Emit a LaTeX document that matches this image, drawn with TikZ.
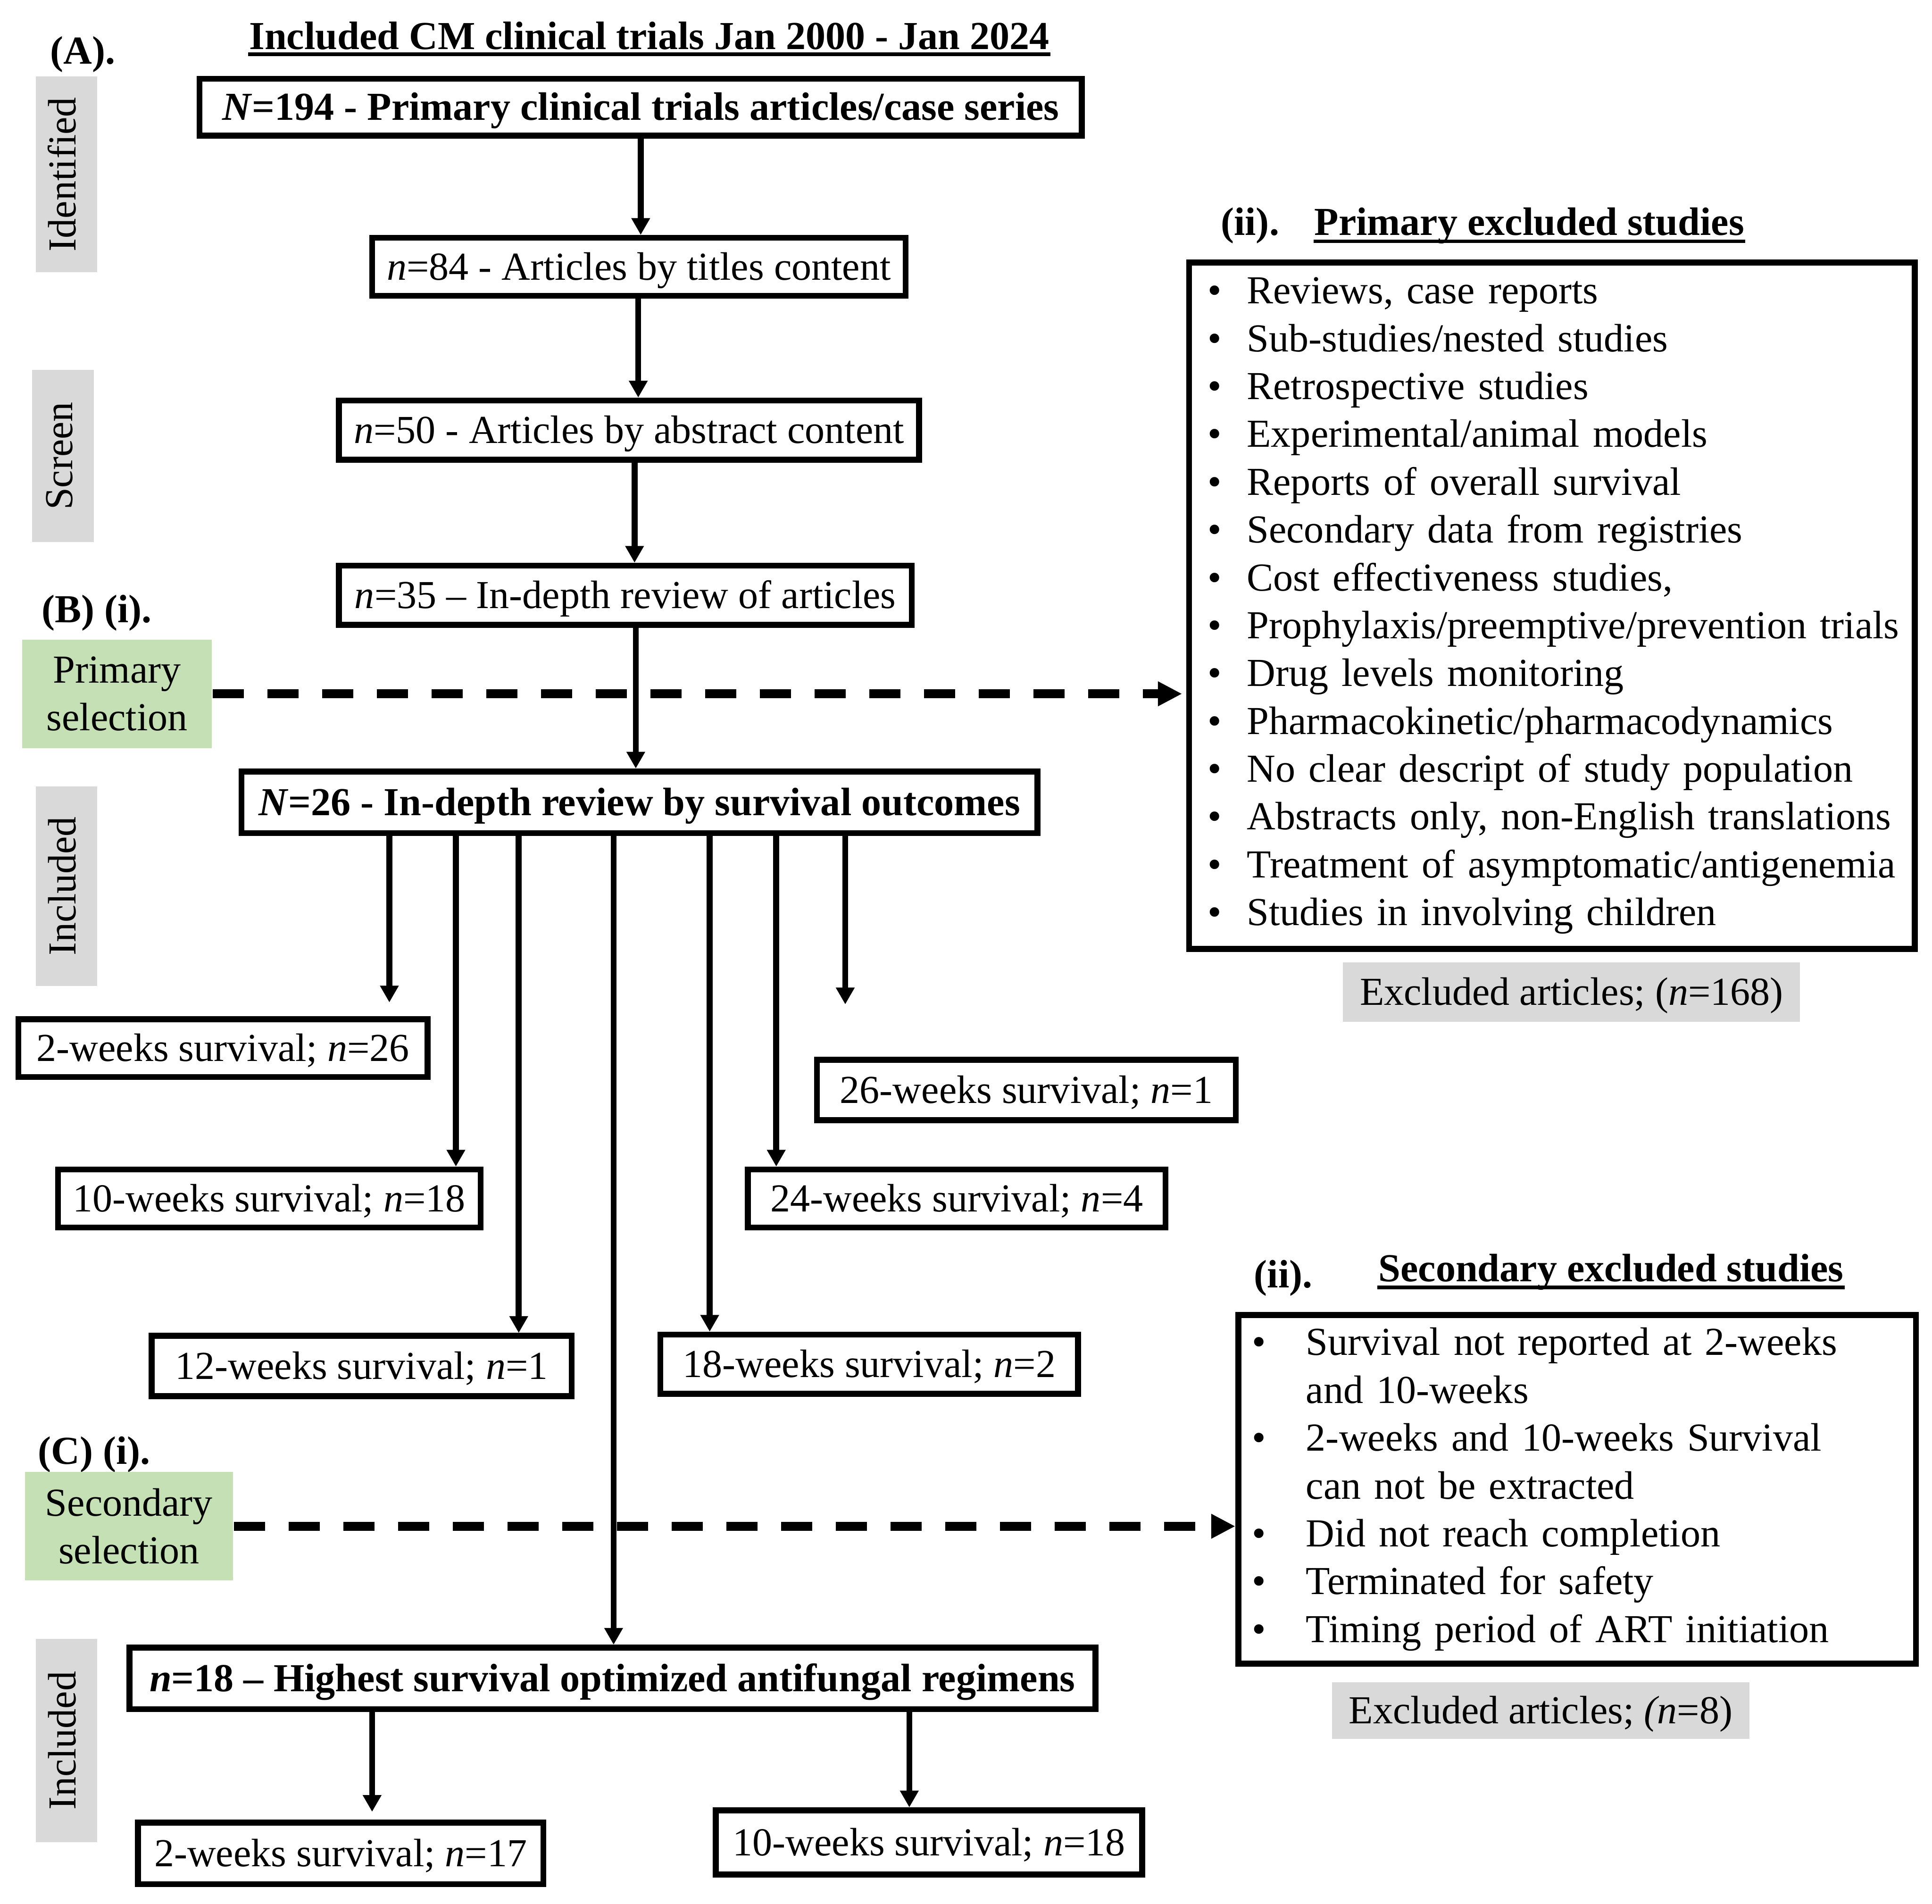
\documentclass[tikz,border=0pt]{standalone}
\usepackage{fontspec}
\setmainfont{Liberation Serif}
\usetikzlibrary{arrows.meta}
\definecolor{selgreen}{HTML}{C5E0B4}
\definecolor{sidegray}{HTML}{D9D9D9}
\begin{document}
\begin{tikzpicture}[x=0.25pt,y=-0.25pt,
  font=\fontsize{8.05}{9.7}\selectfont,
  box/.style={draw, line width=1.2pt, inner sep=0pt, align=center, text height=7.1pt, text depth=1.8pt},
  listbox/.style={draw, line width=1.2pt, inner sep=0pt, align=left},
  side/.style={fill=sidegray, inner sep=0pt, rotate=90, minimum height=12.5pt, text height=5.6pt, text depth=1.8pt},
  sel/.style={fill=selgreen, inner sep=0pt, align=center, minimum height=22pt},
  excl/.style={fill=sidegray, inner sep=0pt, minimum height=12pt, text height=7.1pt, text depth=1.8pt},
  arr/.style={line width=1.2pt, -{Triangle[length=3.4pt,width=3.6pt]}},
  darr/.style={line width=1.8pt, dash pattern=on 6.3pt off 4.8pt, -{Triangle[length=4.9pt,width=4.7pt]}},
  head/.style={font=\fontsize{8.05}{9.7}\selectfont\bfseries, inner sep=0pt, anchor=base west},
  uline/.style={line width=0.75pt}
]
\useasboundingbox (0,0) rectangle (1568,1545);

% headings
\node[head, anchor=base] (title) at (527,40) {Included CM clinical trials Jan 2000 - Jan 2024};
\draw[uline] ([yshift=-1pt]title.base west) -- ([yshift=-1pt]title.base east);
\node[head] (labA) at (40,52) {(A).};
\node[head] (labB) at (33,505) {(B) (i).};
\node[head] (labC) at (30,1188) {(C) (i).};
\node[head] (labP) at (990,191) {(ii).};
\node[head] (tp) at (1066,191) {Primary excluded studies};
\draw[uline] ([yshift=-1.2pt]tp.base west) -- ([yshift=-1.2pt]tp.base east);
\node[head] (labS) at (1017,1045) {(ii).};
\node[head] (ts) at (1118,1040) {Secondary excluded studies};
\draw[uline] ([yshift=-1.2pt]ts.base west) -- ([yshift=-1.2pt]ts.base east);

% side labels
\node[side, minimum width=39.75pt] (sid1) at (54,141.5) {Identified};
\node[side, minimum width=35pt] (scr1) at (51,370) {Screen};
\node[side, minimum width=40.5pt] (inc1) at (54,719) {Included};
\node[side, minimum width=41.25pt] (inc2) at (54,1412.5) {Included};

% selection boxes
\node[sel, minimum width=38.5pt] (psel) at (95,563) {Primary\\selection};
\node[sel, minimum width=42.25pt] (ssel) at (104.7,1238.5) {Secondary\\selection};

% main flow
\node[box, minimum width=179pt, minimum height=11.5pt] (b194) at (520,87) {\textbf{\textit{N}=194 - Primary clinical trials articles/case series}};
\node[box, minimum width=108.25pt, minimum height=11.75pt] (b84) at (518.5,216.5) {\textit{n}=84 - Articles by titles content};
\node[box, minimum width=117.75pt, minimum height=12pt] (b50) at (510.5,349) {\textit{n}=50 - Articles by abstract content};
\node[box, minimum width=116.25pt, minimum height=12pt] (b35) at (507.5,483) {\textit{n}=35 -- In-depth review of articles};
\node[box, minimum width=161.5pt, minimum height=12.5pt] (b26) at (519,651) {\textbf{\textit{N}=26 - In-depth review by survival outcomes}};

% survival outcome boxes
\node[box, minimum width=83pt, minimum height=11.75pt] (s2) at (181,850.5) {2-weeks survival; \textit{n}=26};
\node[box, minimum width=85.75pt, minimum height=11.75pt] (s10) at (218.5,972.5) {10-weeks survival; \textit{n}=18};
\node[box, minimum width=85.25pt, minimum height=12.25pt] (s12) at (293.5,1108.5) {12-weeks survival; \textit{n}=1};
\node[box, minimum width=84.75pt, minimum height=12pt] (s18) at (705.5,1107) {18-weeks survival; \textit{n}=2};
\node[box, minimum width=84.75pt, minimum height=11.75pt] (s24) at (776.5,972.5) {24-weeks survival; \textit{n}=4};
\node[box, minimum width=85pt, minimum height=12.25pt] (s26) at (833,884.5) {26-weeks survival; \textit{n}=1};

% final boxes
\node[box, minimum width=196pt, minimum height=12.5pt] (b18) at (497,1362) {\textbf{\textit{n}=18 -- Highest survival optimized antifungal regimens}};
\node[box, minimum width=82.25pt, minimum height=12.5pt] (f2) at (276.5,1504) {2-weeks survival; \textit{n}=17};
\node[box, minimum width=86.5pt, minimum height=13pt] (f10) at (754,1495) {10-weeks survival; \textit{n}=18};

% exclusion lists
\node[listbox, minimum width=147.25pt, minimum height=139.25pt, text width=139.75pt] (pex) at (1259.5,491.5) {%
\mbox{\makebox[8pt][l]{\textbullet}Reviews, case reports}\\
\mbox{\makebox[8pt][l]{\textbullet}Sub-studies/nested studies}\\
\mbox{\makebox[8pt][l]{\textbullet}Retrospective studies}\\
\mbox{\makebox[8pt][l]{\textbullet}Experimental/animal models}\\
\mbox{\makebox[8pt][l]{\textbullet}Reports of overall survival}\\
\mbox{\makebox[8pt][l]{\textbullet}Secondary data from registries}\\
\mbox{\makebox[8pt][l]{\textbullet}Cost effectiveness studies,}\\
\mbox{\makebox[8pt][l]{\textbullet}Prophylaxis/preemptive/prevention trials}\\
\mbox{\makebox[8pt][l]{\textbullet}Drug levels monitoring}\\
\mbox{\makebox[8pt][l]{\textbullet}Pharmacokinetic/pharmacodynamics}\\
\mbox{\makebox[8pt][l]{\textbullet}No clear descript of study population}\\
\mbox{\makebox[8pt][l]{\textbullet}Abstracts only, non-English translations}\\
\mbox{\makebox[8pt][l]{\textbullet}Treatment of asymptomatic/antigenemia}\\
\mbox{\makebox[8pt][l]{\textbullet}Studies in involving children}};
\node[excl, minimum width=92.75pt] (ex1) at (1275.5,805) {Excluded articles; (\textit{n}=168)};

\node[listbox, minimum width=137.5pt, minimum height=70.75pt, text width=132pt] (sex) at (1280,1208.5) {%
\mbox{\makebox[11pt][l]{\textbullet}Survival not reported at 2-weeks}\\
\mbox{\hspace*{11pt}and 10-weeks}\\
\mbox{\makebox[11pt][l]{\textbullet}2-weeks and 10-weeks Survival}\\
\mbox{\hspace*{11pt}can not be extracted}\\
\mbox{\makebox[11pt][l]{\textbullet}Did not reach completion}\\
\mbox{\makebox[11pt][l]{\textbullet}Terminated for safety}\\
\mbox{\makebox[11pt][l]{\textbullet}Timing period of ART initiation}};
\node[excl, minimum width=84.75pt, minimum height=11.5pt] (ex2) at (1250.5,1388) {Excluded articles; \textit{(n}=8)};

% column coordinates
\coordinate (c520) at (520,0);
\coordinate (c518) at (518,0);
\coordinate (c515) at (515,0);
\coordinate (c516) at (516,0);
\coordinate (c316) at (316,0);
\coordinate (c370) at (370,0);
\coordinate (c421) at (421,0);
\coordinate (c498) at (498,0);
\coordinate (c576) at (576,0);
\coordinate (c630) at (630,0);
\coordinate (c686) at (686,0);
\coordinate (c302) at (302,0);
\coordinate (c738) at (738,0);
\coordinate (e26) at (686,815);

% main arrows
\draw[arr] (b194.south -| c520) -- (b84.north -| c520);
\draw[arr] (b84.south -| c518) -- (b50.north -| c518);
\draw[arr] (b50.south -| c515) -- (b35.north -| c515);
\draw[arr] (b35.south -| c516) -- (b26.north -| c516);

% survival arrows
\draw[arr, shorten >=2.8pt] (b26.south -| c316) -- (s2.north -| c316);
\draw[arr] (b26.south -| c370) -- (s10.north -| c370);
\draw[arr] (b26.south -| c421) -- (s12.north -| c421);
\draw[arr] (b26.south -| c498) -- (b18.north -| c498);
\draw[arr] (b26.south -| c576) -- (s18.north -| c576);
\draw[arr] (b26.south -| c630) -- (s24.north -| c630);
\draw[arr] (b26.south -| c686) -- (e26);

% final arrows
\draw[arr, shorten >=1.6pt] (b18.south -| c302) -- (f2.north -| c302);
\draw[arr] (b18.south -| c738) -- (f10.north -| c738);

% dashed exclusion arrows
\draw[darr, shorten >=0.8pt] (psel.east) -- (pex.west |- psel.east);
\draw[darr] (ssel.east) -- (sex.west |- ssel.east);
\end{tikzpicture}
\end{document}
